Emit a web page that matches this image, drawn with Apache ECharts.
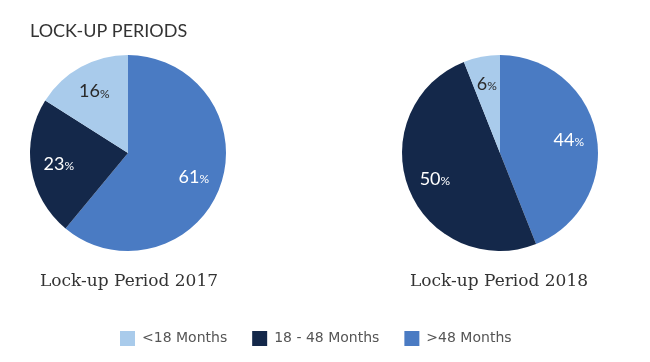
<!DOCTYPE html>
<html><head><meta charset="utf-8">
<script src="https://cdn.jsdelivr.net/npm/echarts@6/dist/echarts.min.js"></script>
<style>html,body{margin:0;padding:0;background:#fff}#c{width:650px;height:362px}</style>
</head><body><div id="c"></div>
<script>
const categories = ['>48 Months', '18 - 48 Months', '<18 Months'];
const legendOrder = ['<18 Months', '18 - 48 Months', '>48 Months'];
const values2017 = [61, 23, 16];
const values2018 = [44, 50, 6];
const pieTitles = ['Lock-up Period 2017', 'Lock-up Period 2018'];
const colors = ['#4a7bc3', '#14284a', '#a9cbeb'];
const labelColors = ['#ffffff', '#ffffff', '#2a2a2a'];

const centers = [[128, 153], [500, 153]];
function mk(vals) { return categories.map((n, i) => ({ name: n, value: vals[i] })); }
const series = [];
[values2017, values2018].forEach((vals, k) => {
  series.push({
    type: 'pie', center: centers[k], radius: 98, startAngle: 90, clockwise: true,
    silent: true, label: { show: false }, labelLine: { show: false },
    itemStyle: { borderWidth: 0 },
    data: mk(vals).map((d, i) => ({ ...d, itemStyle: { color: colors[i] } }))
  });
  series.push({
    type: 'pie', center: centers[k], radius: [0, 134], startAngle: 90, clockwise: true,
    silent: true, legendHoverLink: false, labelLine: { show: false },
    itemStyle: { color: 'rgba(0,0,0,0)', borderWidth: 0 },
    label: {
      show: true, position: 'inside',
      formatter: p => '{n|' + p.value + '}{p|%}',
      rich: {
        n: { fontFamily: 'Lato', fontSize: 18 },
        p: { fontFamily: 'Lato', fontSize: 12, padding: [4, 0, 0, 0] }
      }
    },
    data: mk(vals).map((d, i) => ({ ...d, label: { color: labelColors[i], rich: { n: { color: labelColors[i] }, p: { color: labelColors[i] } } } }))
  });
});

const chart = echarts.init(document.getElementById('c'), null, { renderer: 'canvas' });
chart.setOption({
  animation: false,
  color: colors,
  title: [
    { text: 'LOCK-UP PERIODS', left: 25, top: 17, textStyle: { fontFamily: 'Lato', fontSize: 18, fontWeight: 'normal', color: '#333' } },
    { text: pieTitles[0], left: 124, top: 268, textAlign: 'center', textStyle: { fontFamily: 'DejaVu Serif', fontSize: 17, fontWeight: 'normal', color: '#333' } },
    { text: pieTitles[1], left: 494, top: 268, textAlign: 'center', textStyle: { fontFamily: 'DejaVu Serif', fontSize: 17, fontWeight: 'normal', color: '#333' } }
  ],
  legend: {
    data: legendOrder, left: 115, top: 326, itemWidth: 15, itemHeight: 15, itemGap: 25,
    icon: 'rect', selectedMode: false,
    textStyle: { fontFamily: 'DejaVu Sans', fontSize: 14, color: '#555', padding: [0, 0, 0, 2] }
  },
  series: series
});
</script></body></html>
